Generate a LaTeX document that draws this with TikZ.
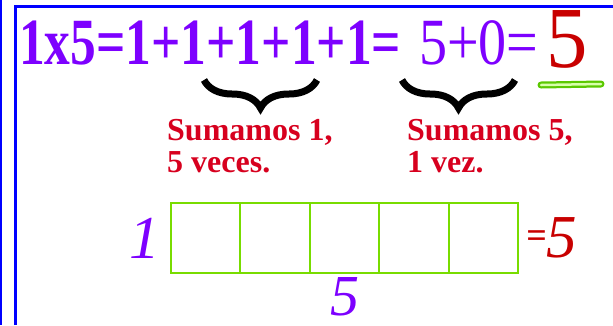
\documentclass[tikz,border=0pt]{standalone}
\usepackage{fontspec}
\setmainfont{Liberation Serif}
\usepackage{graphicx}
\usepackage{xcolor}
\usetikzlibrary{positioning,decorations.pathreplacing}
\definecolor{eqColor}{RGB}{125,0,255}
\definecolor{resColor}{RGB}{200,0,0}
\definecolor{noteColor}{RGB}{215,0,30}
\definecolor{cellColor}{RGB}{120,220,0}
\definecolor{markColor}{RGB}{90,200,0}
\definecolor{markFill}{RGB}{215,255,170}
\definecolor{frameColor}{RGB}{0,0,255}
\newcommand{\eqfont}{\fontsize{66}{66}\selectfont}
\newcommand{\notefont}{\fontsize{32}{32}\selectfont\bfseries}
\newcommand{\digitfont}{\fontsize{61}{61}\selectfont\itshape}

\begin{document}
\begin{tikzpicture}[x=1pt, y=-1pt,
    eq/.style={anchor=base west, inner sep=0, text=eqColor, font=\eqfont},
    note/.style={anchor=base west, inner sep=0, align=left, text=noteColor, font=\notefont},
    cell/.style={draw=cellColor, line width=2pt, minimum width=69.4pt, minimum height=70pt, inner sep=0, outer sep=0},
    digit/.style={inner sep=0, font=\digitfont},
    brc/.style={decorate, decoration={brace, mirror, amplitude=28pt}, line width=7pt},
    frame/.style={frameColor, line width=3pt}
  ]
  \useasboundingbox (0,0) rectangle (613,325);

  % blue page edges
  \draw[frame, line width=2.5pt] (1.2,0) -- (1.2,325);
  \draw[frame] (15,325) -- (15,6.5) -- (613,6.5);

  % the equation
  \node[eq, font=\eqfont\bfseries] (lhs) at (19,64) {\scalebox{0.78}[1]{1x5=1+1+1+1+1=}};
  \node[eq] (mid) at (419,64) {\scalebox{0.85}[1]{5+0=}};
  \node[eq, text=resColor, font=\fontsize{87}{87}\selectfont] (res) at (546,67) {\scalebox{0.95}[1]{5}};
  \draw[markColor, line width=7pt, line cap=round] (541,85) -- (601,84);
  \draw[markFill, line width=2.5pt, line cap=round] (541,85) -- (601,84);

  \draw[brc] (204,80) -- (317,80);
  \draw[brc] (402,80) -- (515,80);
  \node[note] (note1) at (167,172) {Sumamos 1,\\5 veces.};
  \node[note] (note2) at (407,172) {Sumamos 5,\\1 vez.};

  % area model
  \foreach \i in {1,...,5}
    \node[cell] (c\i) at ({171+69.4*(\i-0.5)},238) {};
  \node[digit, text=eqColor, left=11pt of c1] (side) {1};
  \node[digit, text=resColor, right=8pt of c5] (area) {\raisebox{10pt}{\fontsize{36}{36}\selectfont\bfseries=}5};
  \node[digit, text=eqColor, below=4pt of c3, font=\fontsize{58}{58}\selectfont\itshape] (base) {5};
\end{tikzpicture}
\end{document}
